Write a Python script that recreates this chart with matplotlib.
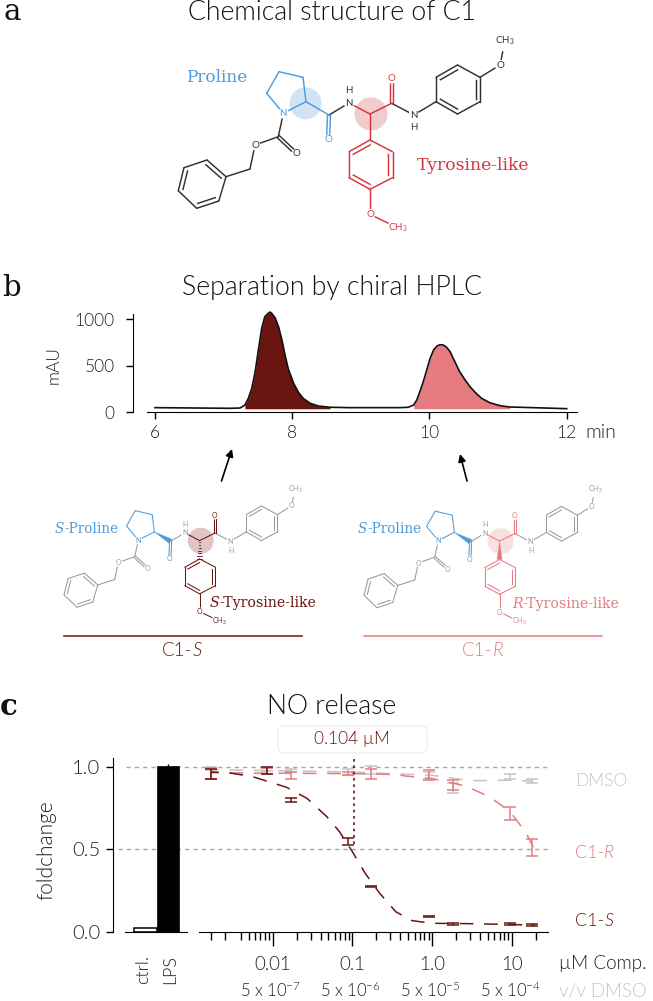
import numpy as np
import matplotlib
matplotlib.use("Agg")
import matplotlib.pyplot as plt
from matplotlib.patches import Circle, Polygon, FancyBboxPatch
from matplotlib.ticker import NullFormatter

plt.rcParams['font.family'] = ['Lato', 'DejaVu Sans']
plt.rcParams['font.weight'] = 300
plt.rcParams['mathtext.default'] = 'regular'

W, H = 653, 1001
SANS = ['Lato', 'DejaVu Sans']
SERIF = 'DejaVu Serif'

DARK = '#6a1510'
PINK = '#e77b82'
BLUE = '#4f9bdc'
RED = '#d8333c'
GREY = '#c4c4c4'
TXT = '#202020'

# HPLC trace, time in min and signal in mAU
hplc_t = [6.0, 7.09, 7.24, 7.31, 7.36, 7.41, 7.46, 7.51, 7.555, 7.60, 7.65, 7.675, 7.70, 7.75, 7.80, 7.85,
          7.895, 7.94, 8.02, 8.09, 8.16, 8.26, 8.38, 8.55, 8.84, 9.57, 9.69, 9.77, 9.815, 9.86, 9.91, 9.96,
          10.01, 10.06, 10.11, 10.155, 10.20, 10.25, 10.30, 10.37, 10.44, 10.52, 10.59, 10.665, 10.76,
          10.88, 11.03, 11.17, 11.32, 12.0]
hplc_mau = [50, 43, 46, 78, 150, 258, 437, 688, 903, 1028, 1065, 1078, 1065, 1017, 921, 777,
            616, 473, 312, 215, 150, 97, 68, 54, 50, 50, 54, 78, 132, 222, 329, 455,
            581, 670, 713, 727, 724, 699, 652, 544, 437, 347, 276, 215, 150,
            103, 71, 57, 54, 39]
hplc_base = 38
peak_s = (7.3, 8.6)
peak_r = (9.72, 11.25)
hplc_xticks = [6, 8, 10, 12]
hplc_yticks = [0, 500, 1000]

# NO release
bar_labels = ['ctrl.', 'LPS']
bar_label_pos = [-0.1, 1.1]
bar_values = [0.025, 1.005]
bar_err = [0.0, 0.012]

doses = [0.0017, 0.0085, 0.017, 0.088, 0.17, 0.9, 1.8, 9.3, 18]
s_mean = [0.96, 0.978, 0.80, 0.547, 0.273, 0.09, 0.047, 0.045, 0.04]
s_err = [0.03, 0.02, 0.01, 0.02, 0.003, 0.003, 0.004, 0.006, 0.005]
r_mean = [0.96, 0.975, 0.95, 0.96, 0.96, 0.95, 0.89, 0.72, 0.51]
r_err = [0.035, 0.02, 0.02, 0.01, 0.03, 0.03, 0.03, 0.04, 0.05]
d_mean = [0.99, 0.985, 0.98, 0.97, 0.98, 0.95, 0.875, 0.94, 0.917]
d_err = [0.01, 0.01, 0.01, 0.02, 0.025, 0.02, 0.03, 0.015, 0.012]

s_fit_x = [0.0017, 0.00275, 0.0056, 0.015, 0.027, 0.048, 0.069, 0.1, 0.145, 0.22, 0.35, 0.56, 1.0, 2.6, 7.6, 19.5]
s_fit_y = [0.97, 0.966, 0.942, 0.877, 0.81, 0.698, 0.607, 0.486, 0.354, 0.233, 0.121, 0.067, 0.051, 0.049, 0.045, 0.04]
r_fit_x = [0.0017, 0.09, 0.34, 0.47, 1.0, 2.6, 5.2, 9.4, 15, 19]
r_fit_y = [0.965, 0.96, 0.955, 0.945, 0.93, 0.885, 0.82, 0.73, 0.60, 0.50]
d_fit_x = [0.0017, 0.1, 1.0, 3.0, 9, 18]
d_fit_y = [0.985, 0.97, 0.95, 0.917, 0.92, 0.915]
ic50 = 0.104

conc_ticks = [0.01, 0.1, 1.0, 10]
conc_labels = ['0.01', '0.1', '1.0', '10']
conc_minor = [0.0017, 0.00255, 0.004, 0.005, 0.006, 0.007, 0.008, 0.009,
              0.02, 0.03, 0.04, 0.05, 0.06, 0.07, 0.08, 0.09,
              0.2, 0.3, 0.4, 0.5, 0.6, 0.7, 0.8, 0.9,
              2, 3, 4, 5, 6, 7, 8, 9, 20]
dmso_labels = ['5 x 10$^{-7}$', '5 x 10$^{-6}$', '5 x 10$^{-5}$', '5 x 10$^{-4}$']

# molecule drawing, positions as in panel a
ATOMS = {
    'N1': (283.3, 113.3), 'Ca': (306, 101.7), 'Cb': (303, 77.3), 'Cg': (279, 71.7), 'Cd': (266.7, 93.3),
    'C1': (329, 115), 'O1': (328, 140), 'N2': (349, 103), 'Cx': (370, 114),
    'C2': (391.7, 103.3), 'O2': (391.7, 78.3), 'N3': (413.8, 115),
    'A1': (436, 101.7), 'A2': (436, 77.3), 'A3': (457.5, 65), 'A4': (480, 77.3), 'A5': (480, 101.7), 'A6': (457.5, 114),
    'O3': (500, 65), 'M3': (505, 41),
    'T1': (370, 140), 'T2': (392.5, 151.7), 'T3': (392.5, 177.7), 'T4': (370, 189.3), 'T5': (349, 177.7), 'T6': (349, 151.7),
    'O4': (370, 214.3), 'M4': (398, 228),
    'Cc': (278.3, 136.7), 'O5': (296.7, 154), 'O6': (255, 145), 'Bn': (250, 169),
    'P1': (226, 176.7), 'P2': (218.8, 201), 'P3': (196.7, 208.3), 'P4': (178.3, 190.7), 'P5': (184, 167.7), 'P6': (207, 160),
}
PLAIN = [('N1', 'Cc'), ('Cc', 'O6'), ('O6', 'Bn'), ('Bn', 'P1'), ('C1', 'N2'), ('C2', 'N3'), ('N3', 'A1'), ('A4', 'O3'), ('O3', 'M3')]
RINGS_PLAIN = ['P1', 'P2', 'P3', 'P4', 'P5', 'P6'], ['A1', 'A2', 'A3', 'A4', 'A5', 'A6']
PRO_BONDS = [('N1', 'Ca'), ('Ca', 'Cb'), ('Cb', 'Cg'), ('Cg', 'Cd'), ('Cd', 'N1')]
TYR_BONDS = [('N2', 'Cx'), ('Cx', 'C2'), ('T4', 'O4'), ('O4', 'M4')]
TYR_RING = ['T1', 'T2', 'T3', 'T4', 'T5', 'T6']
LABELS_GREY = [('O5', 'O'), ('O6', 'O'), ('N2', 'N'), ('N3', 'N'), ('O3', 'O'), ('M3', 'CH$_3$')]
LABELS_PRO = [('N1', 'N'), ('O1', 'O')]
LABELS_TYR = [('O2', 'O'), ('O4', 'O'), ('M4', 'CH$_3$')]


def px_axes(fig, left, right, top, bottom):
    return fig.add_axes([left / W, 1 - bottom / H, (right - left) / W, (bottom - top) / H])


def two_part(ax, x, y, first, second, color, size, family, it_first=True, ha='left'):
    # text with one italic part, second part is placed after the first
    a = ax.text(x, y, first, color=color, fontsize=size, family=family, va='center', ha=ha,
                style='italic' if it_first else 'normal')
    ax.annotate(second, xy=(1, 0), xycoords=a, va='bottom', ha='left', color=color, fontsize=size,
                family=family, style='normal' if it_first else 'italic')


def molecule(ax, sc, dx, dy, col_base, col_pro, col_tyr, lw, fs, stereo=None):
    def P(n):
        return np.array([ATOMS[n][0] * sc + dx, ATOMS[n][1] * sc + dy])

    def bond(a, b, c, z=3):
        pa, pb = P(a), P(b)
        ax.plot([pa[0], pb[0]], [pa[1], pb[1]], color=c, lw=lw, zorder=z, solid_capstyle='round')

    def dbl(a, b, c):
        pa, pb = P(a), P(b)
        v = pb - pa
        n = np.array([-v[1], v[0]]) / np.hypot(*v) * 1.5 * sc
        for s in (-1, 1):
            ax.plot([pa[0] + s * n[0], pb[0] + s * n[0]], [pa[1] + s * n[1], pb[1] + s * n[1]], color=c, lw=lw, zorder=3)

    def ring(names, c):
        cen = np.mean([P(n) for n in names], axis=0)
        for i, n in enumerate(names):
            m = names[(i + 1) % 6]
            bond(n, m, c)
            if i % 2 == 1:
                pa, pb = P(n), P(m)
                qa = pa + (cen - pa) * 0.2
                qb = pb + (cen - pb) * 0.2
                ax.plot([qa[0], qb[0]], [qa[1], qb[1]], color=c, lw=lw, zorder=3)

    def wedge(a, b, c, hashed=False):
        pa, pb = P(a), P(b)
        v = pb - pa
        n = np.array([-v[1], v[0]]) / np.hypot(*v) * 2.6
        if hashed:
            for f in np.linspace(0.1, 1, 7):
                q = pa + v * f
                ax.plot([q[0] - n[0] * f, q[0] + n[0] * f], [q[1] - n[1] * f, q[1] + n[1] * f], color=c, lw=lw * 0.8, zorder=3)
        else:
            ax.add_patch(Polygon([pa, pb + n, pb - n], closed=True, fc=c, ec=c, lw=0.2, zorder=3))

    for a, b in PLAIN:
        bond(a, b, col_base)
    for r in RINGS_PLAIN:
        ring(r, col_base)
    dbl('Cc', 'O5', col_base)
    for a, b in PRO_BONDS:
        bond(a, b, col_pro)
    dbl('C1', 'O1', col_pro)
    for a, b in TYR_BONDS:
        bond(a, b, col_tyr)
    dbl('C2', 'O2', col_tyr)
    ring(TYR_RING, col_tyr)
    if stereo is None:
        bond('Ca', 'C1', col_pro)
        bond('Cx', 'T1', col_tyr)
    else:
        wedge('Ca', 'C1', col_pro)
        wedge('Cx', 'T1', col_tyr, hashed=stereo == 'S')

    for group, c in ((LABELS_GREY, col_base), (LABELS_PRO, col_pro), (LABELS_TYR, col_tyr)):
        for n, s in group:
            x, y = P(n)
            ax.text(x, y, s, color=c, fontsize=fs, ha='center', va='center', zorder=4, family=SANS, fontweight=400,
                    bbox=dict(boxstyle='circle,pad=0.08', fc='white', ec='none'))
    for n, anchor in (('H', 'N2'), ('H', 'N3')):
        x, y = P(anchor)
        off = -12.3 * sc if anchor == 'N2' else 12.3 * sc
        ax.text(x, y + off, n, color=col_base, fontsize=fs, ha='center', va='center', zorder=4, family=SANS, fontweight=400)


fig = plt.figure(figsize=(W / 100, H / 100), dpi=100)

# full figure layer in pixels for titles, drawings and free labels
bg = fig.add_axes([0, 0, 1, 1])
bg.set_xlim(0, W)
bg.set_ylim(H, 0)
bg.axis('off')

for s, x, y in (('a', 12, 20), ('b', 11, 296), ('c', 9, 715)):
    bg.text(x, y, s, family=SERIF, fontsize=21, ha='center', va='baseline', color='#111111',
            fontweight='bold' if s == 'c' else 'normal')
for s, y in (('Chemical structure of C1', 12), ('Separation by chiral HPLC', 287), ('NO release', 706)):
    bg.text(332, y, s, fontsize=19.2, ha='center', va='center', color='#111111')

# panel a
bg.add_patch(Circle((305.6, 103.3), 16, fc='#d2e3f4', ec='none', zorder=1))
bg.add_patch(Circle((371, 114), 16.5, fc='#f0cccc', ec='none', zorder=1))
molecule(bg, 1, 0, 0, '#303030', BLUE, RED, 1.05, 7)
bg.text(186, 77, 'Proline', family=SERIF, fontsize=12.2, color=BLUE, va='center', fontweight=400)
bg.text(417, 165, 'Tyrosine-like', family=SERIF, fontsize=12.3, color=RED, va='center', fontweight=400)

# panel b drawings
bg.add_patch(Circle((200.7, 540.7), 13, fc='#dfc6c5', ec='none', zorder=1))
bg.add_patch(Circle((500.7, 541.2), 13, fc='#f9dfe0', ec='none', zorder=1))
molecule(bg, 0.707, -62, 460, '#9a9a9a', BLUE, DARK, 0.75, 5, stereo='S')
molecule(bg, 0.707, 238, 460.5, '#9a9a9a', BLUE, PINK, 0.75, 5, stereo='R')
two_part(bg, 55, 529, 'S', '-Proline', BLUE, 9.8, SERIF)
two_part(bg, 210, 603, 'S', '-Tyrosine-like', DARK, 10.2, SERIF)
two_part(bg, 358, 529, 'S', '-Proline', BLUE, 9.8, SERIF)
two_part(bg, 512, 604, 'R', '-Tyrosine-like', PINK, 10.2, SERIF)
bg.plot([64, 301.7], [635.7, 635.7], color=DARK, lw=1.1)
bg.plot([364, 601.7], [635.7, 635.7], color=PINK, lw=1.1)
two_part(bg, 162, 650, 'C1-', 'S', DARK, 13.5, SANS, it_first=False)
two_part(bg, 462, 650, 'C1-', 'R', PINK, 13.5, SANS, it_first=False)
bg.annotate('', xy=(232, 449), xytext=(221.5, 481), arrowprops=dict(arrowstyle='-|>', color='black', lw=1.2, shrinkA=0, shrinkB=0, mutation_scale=11))
bg.annotate('', xy=(460, 454), xytext=(467, 481), arrowprops=dict(arrowstyle='-|>', color='black', lw=1.2, shrinkA=0, shrinkB=0, mutation_scale=11))

# chromatogram
ax = px_axes(fig, 132.5, 577, 314, 412.3)
ax.patch.set_alpha(0)
t = np.array(hplc_t)
m = np.array(hplc_mau)
for (a, b), c in ((peak_s, DARK), (peak_r, PINK)):
    keep = (t >= a) & (t <= b)
    ax.fill_between(t[keep], hplc_base, m[keep], color=c, lw=0, clip_on=False)
ax.plot(t, m, color='#111111', lw=1.2, clip_on=False)
ax.set_xlim(5.672, 12.15)
ax.set_ylim(0, 1057)
ax.set_xticks(hplc_xticks)
ax.set_yticks(hplc_yticks)
ax.tick_params(axis='x', length=5, width=1, labelsize=12.5, labelcolor=TXT, pad=4)
ax.tick_params(axis='y', length=5, width=1, labelsize=12.5, labelcolor=TXT, pad=8)
ax.spines[['top', 'right']].set_visible(False)
ax.spines['bottom'].set_bounds(5.877, 12.15)
bg.text(54, 365, 'mAU', rotation=90, fontsize=12.5, color=TXT, ha='center', va='center')
bg.text(585, 432, 'min', fontsize=14, color=TXT, va='center')

# NO release bars
ax1 = px_axes(fig, 113, 187, 758, 931.7)
ax1.patch.set_alpha(0)
ax1.bar([0], bar_values[0], width=1, fc='white', ec='black', lw=1.1)
ax1.bar([1], bar_values[1], width=1, fc='black', ec='black', lw=0.5, yerr=bar_err[1], error_kw=dict(ecolor='black', lw=1))
ax1.set_xlim(-1.477, 1.886)
ax1.set_ylim(0, 1.055)
ax1.set_yticks([0, 0.5, 1.0], ['0.0', '0.5', '1.0'])
ax1.set_xticks([])
ax1.tick_params(length=5, width=1, labelsize=14.5, labelcolor=TXT, pad=4)
ax1.spines[['top', 'right']].set_visible(False)
ax1.spines['bottom'].set_bounds(-0.92, 1.886)
bg.text(46, 850, 'foldchange', rotation=90, fontsize=15, color=TXT, ha='center', va='center')
for p, s in zip(bar_label_pos, bar_labels):
    ax1.text(p, -0.14, s, rotation=90, ha='center', va='top', fontsize=13, color=TXT)
for y, start in ((1.0, 0.17), (0.5, 0.07)):
    ax1.axhline(y, start, 5.88, color='#a8a8a8', lw=1, ls=(0, (3, 3)), clip_on=False, zorder=0)

# NO release dose response
ax2 = px_axes(fig, 199, 548, 758, 931.7)
ax2.patch.set_alpha(0)
ax2.set_xscale('log')
ax2.set_xlim(10 ** -2.921, 10 ** 1.45)
ax2.set_ylim(0, 1.055)
for fx, fy, mean, err, c in ((d_fit_x, d_fit_y, d_mean, d_err, GREY), (r_fit_x, r_fit_y, r_mean, r_err, PINK),
                             (s_fit_x, s_fit_y, s_mean, s_err, DARK)):
    ax2.plot(fx, fy, color=c, lw=1.1, ls=(4, (9, 7)))
    ax2.errorbar(doses, mean, yerr=err, fmt='none', ecolor=c, elinewidth=1.1, capsize=4, capthick=1.1)
ax2.plot([ic50, ic50], [0.53, 1.055], color=DARK, lw=1.2, ls=(0, (1.6, 2.2)))
ax2.set_xticks(conc_ticks, conc_labels)
ax2.set_xticks(conc_minor, minor=True)
ax2.xaxis.set_minor_formatter(NullFormatter())
ax2.set_yticks([])
ax2.tick_params(axis='x', which='major', length=10, width=1, labelsize=13.5, labelcolor=TXT, pad=7.5)
ax2.tick_params(axis='x', which='minor', length=5.5, width=1)
ax2.spines[['top', 'right', 'left']].set_visible(False)

for v, s in zip(conc_ticks, dmso_labels):
    px = 272.7 + 80 * (np.log10(v) + 2)
    bg.text(px - 2, 990, s, fontsize=12, color=TXT, ha='center', va='center')
bg.text(559, 963, 'µM Comp.', fontsize=13.6, color=TXT, va='center')
bg.text(559, 991, 'v/v DMSO', fontsize=13.4, color=GREY, va='center')
bg.text(575, 781, 'DMSO', fontsize=12.5, color=GREY, va='center')
two_part(bg, 575, 853, 'C1-', 'R', PINK, 13, SANS, it_first=False)
two_part(bg, 575, 921, 'C1-', 'S', DARK, 13, SANS, it_first=False)

bg.add_patch(FancyBboxPatch((278, 726), 149, 27, boxstyle='round,pad=0,rounding_size=6', fc='white', ec='#eeeeee', lw=1))
bg.text(352, 739, '0.104 µM', fontsize=12.5, color=DARK, ha='center', va='center')

fig.savefig('out.png', dpi=100)
